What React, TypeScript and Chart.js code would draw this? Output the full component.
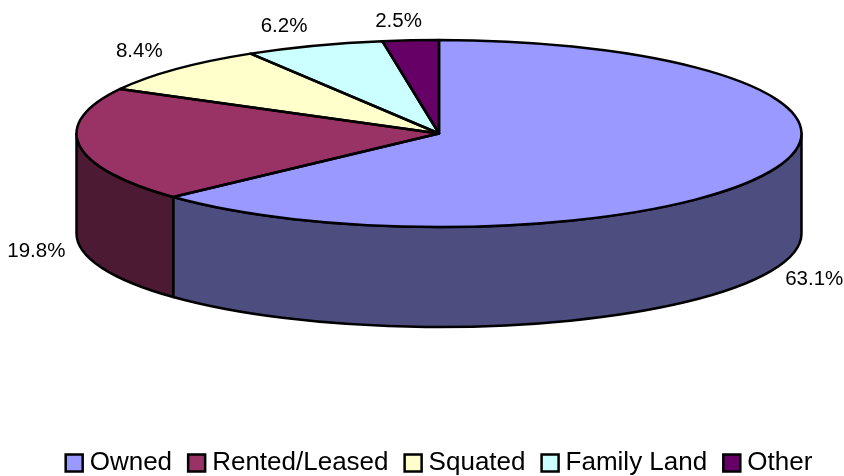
import React, { useEffect, useRef } from "react";
import { Chart, registerables } from "chart.js";

Chart.register(...registerables);

const categories = ["Owned", "Rented/Leased", "Squated", "Family Land", "Other"];
const shares = [63.1, 19.8, 8.4, 6.2, 2.5];
const topColors = ["#9999FF", "#993366", "#FFFFCC", "#CCFFFF", "#660066"];
const wallColors = ["#4D4D80", "#4D1A33", "#808066", "#668080", "#330033"];

const FONT = '"Liberation Sans", Arial, sans-serif';
const CX = 439;
const CY = 133.5;
const RX = 362.5;
const RY = 93.5;
const DEPTH = 100;
const LINE = 2.5;
const LEGEND_SHIFT_Y = 10;
const LEGEND_SHIFT_X = 20;

// Where each percentage label sits relative to the rim point of its slice.
const labelNudge: [number, number][] = [
  [43, 8],
  [-43, 6],
  [-37, -18],
  [-30, -19],
  [-12, -19],
];

const pie3d = {
  id: "pie3d",
  afterLayout(chart: any) {
    chart.legend.top += LEGEND_SHIFT_Y;
    chart.legend.bottom += LEGEND_SHIFT_Y;
    chart.legend.left += LEGEND_SHIFT_X;
    chart.legend.right += LEGEND_SHIFT_X;
  },
  beforeDatasetsDraw(chart: any) {
    const ctx = chart.ctx;
    const arcs = chart.getDatasetMeta(0).data;
    ctx.save();
    ctx.lineWidth = LINE;
    ctx.strokeStyle = "#000";
    ctx.lineJoin = "round";
    arcs.forEach((arc: any, i: number) => {
      const a = Math.max(arc.startAngle, 0);
      const b = Math.min(arc.endAngle, Math.PI);
      if (b <= a) return;
      ctx.beginPath();
      ctx.ellipse(CX, CY, RX, RY, 0, a, b, false);
      ctx.ellipse(CX, CY + DEPTH, RX, RY, 0, b, a, true);
      ctx.closePath();
      ctx.fillStyle = wallColors[i];
      ctx.fill();
      ctx.stroke();
    });
    ctx.restore();
  },
  beforeDatasetDraw(chart: any) {
    const ctx = chart.ctx;
    const arc = chart.getDatasetMeta(0).data[0];
    ctx.save();
    ctx.translate(CX, CY);
    ctx.scale(RX / arc.outerRadius, RY / arc.outerRadius);
    ctx.translate(-arc.x, -arc.y);
  },
  afterDatasetDraw(chart: any) {
    const ctx = chart.ctx;
    ctx.restore();
    const arcs = chart.getDatasetMeta(0).data;
    ctx.save();
    ctx.lineWidth = LINE;
    ctx.strokeStyle = "#000";
    ctx.lineJoin = "round";
    arcs.forEach((arc: any) => {
      ctx.beginPath();
      ctx.moveTo(CX, CY);
      ctx.ellipse(CX, CY, RX, RY, 0, arc.startAngle, arc.endAngle, false);
      ctx.closePath();
      ctx.stroke();
    });
    ctx.font = `20.5px ${FONT}`;
    ctx.fillStyle = "#000";
    ctx.textAlign = "center";
    ctx.textBaseline = "middle";
    arcs.forEach((arc: any, i: number) => {
      const mid = (arc.startAngle + arc.endAngle) / 2;
      const x = CX + RX * Math.cos(mid);
      const y = CY + RY * Math.sin(mid) + (Math.sin(mid) > 0 || i === 1 ? DEPTH : 0);
      ctx.fillText(`${shares[i].toFixed(1)}%`, x + labelNudge[i][0], y + labelNudge[i][1]);
    });
    ctx.restore();
  },
};

export default function App() {
  const ref = useRef<HTMLCanvasElement>(null);

  useEffect(() => {
    document.body.style.margin = "0";
    const chart = new Chart(ref.current!, {
      type: "pie",
      data: {
        labels: categories,
        datasets: [
          {
            data: shares,
            backgroundColor: topColors,
            borderWidth: 0,
          },
        ],
      },
      options: {
        animation: false,
        responsive: false,
        devicePixelRatio: 1,
        plugins: {
          tooltip: { enabled: false },
          legend: {
            position: "bottom",
            labels: {
              usePointStyle: true,
              pointStyle: "rect",
              boxWidth: 5,
              boxHeight: 17,
              padding: 22.1,
              color: "#000",
              font: { family: FONT, size: 26 },
              generateLabels: () =>
                categories.map((text, i) => ({
                  text,
                  fillStyle: topColors[i],
                  strokeStyle: "#000",
                  lineWidth: 2.5,
                  pointStyle: "rect",
                  hidden: false,
                  index: i,
                })),
            },
          },
        },
      } as any,
      plugins: [pie3d],
    });
    return () => chart.destroy();
  }, []);

  return <canvas ref={ref} width={844} height={476} style={{ display: "block" }} />;
}
